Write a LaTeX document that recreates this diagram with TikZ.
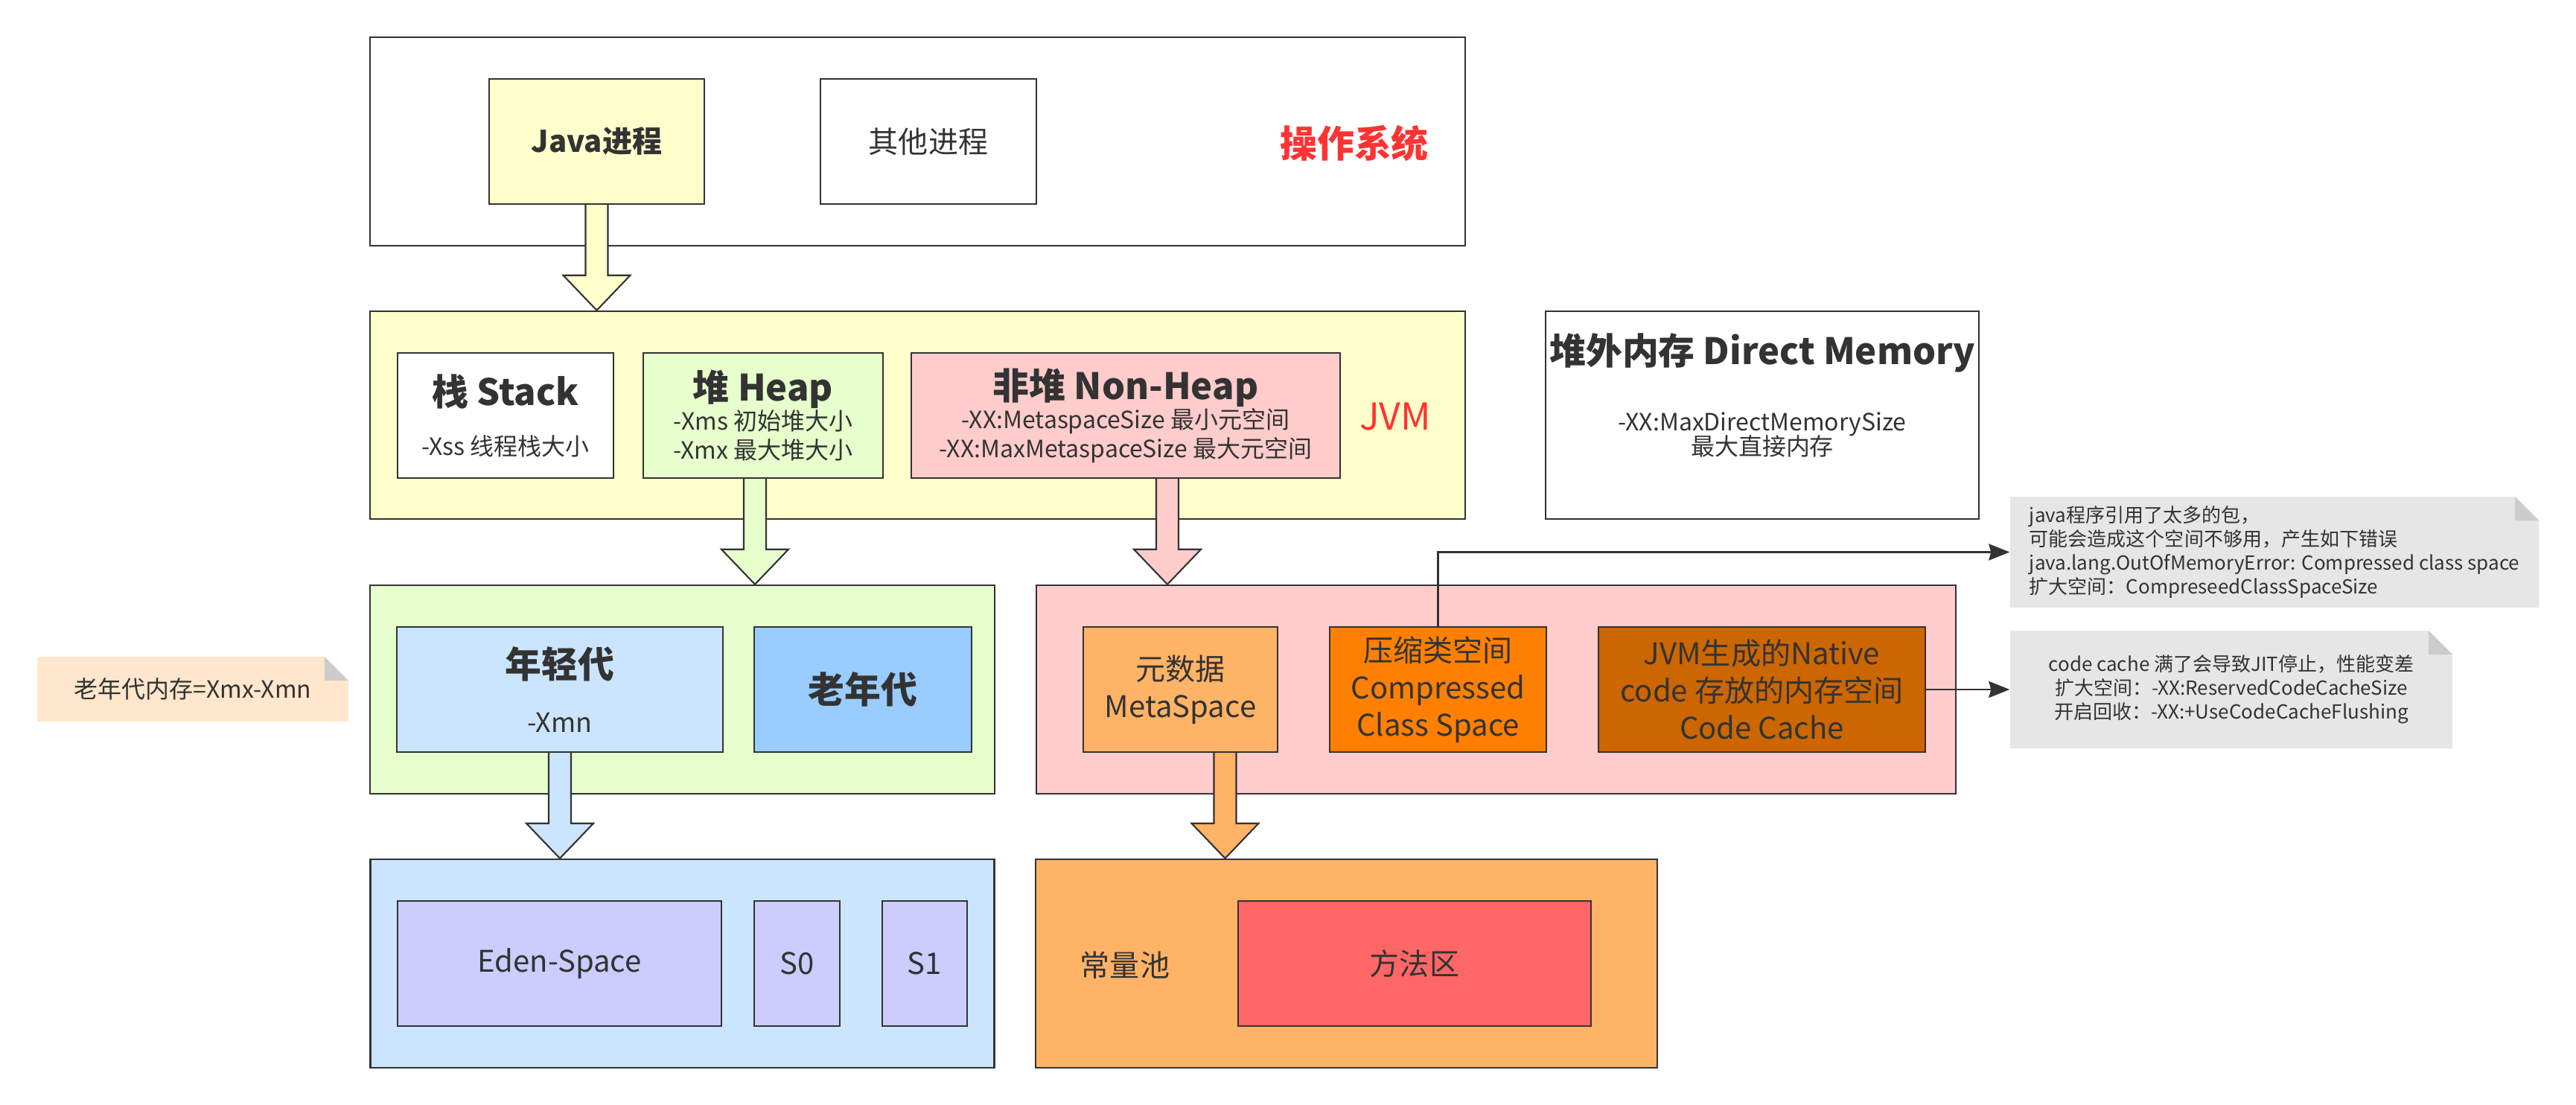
\documentclass[tikz,border=0pt]{standalone}
\usepackage{fontspec}
\setmainfont{Noto Sans CJK SC}
\usetikzlibrary{calc,arrows.meta}

\definecolor{linegray}{HTML}{333333}
\definecolor{labelred}{HTML}{FF3333}
\definecolor{yellowfill}{HTML}{FFFFCC}
\definecolor{greenfill}{HTML}{E6FFCC}
\definecolor{pinkfill}{HTML}{FFCCCC}
\definecolor{bluefill}{HTML}{CCE5FF}
\definecolor{skyfill}{HTML}{99CCFF}
\definecolor{peachfill}{HTML}{FFB366}
\definecolor{orangefill}{HTML}{FF8000}
\definecolor{brownfill}{HTML}{CC6600}
\definecolor{lilacfill}{HTML}{CCCCFF}
\definecolor{redfill}{HTML}{FF6666}
\definecolor{notegray}{HTML}{E6E6E6}
\definecolor{notepeach}{HTML}{FFE6CC}
\definecolor{foldgray}{HTML}{CCCCCC}

\newcommand{\fsnote}{\fontsize{7.4pt}{9.1pt}\selectfont}
\newcommand{\fsbase}{\fontsize{9.1pt}{11.1pt}\selectfont}
\newcommand{\fsmid}{\fontsize{11.4pt}{14.2pt}\selectfont}
\newcommand{\fstitle}{\fontsize{13.9pt}{16.7pt}\selectfont\bfseries}

\newcommand{\blockarrow}[3]{%
  \filldraw[draw=linegray, line width=0.6pt, fill=#1] let \p1=(#2), \p2=(#3) in
    (\x1-0.15cm,\y1) -- (\x1-0.15cm,\y2+0.47cm) -- (\x1-0.45cm,\y2+0.47cm) -- (\x1,\y2)
    -- (\x1+0.45cm,\y2+0.47cm) -- (\x1+0.15cm,\y2+0.47cm) -- (\x1+0.15cm,\y1);}

\begin{document}
\begin{tikzpicture}[x=1cm, y=-1cm,
  box/.style={draw=linegray, line width=0.7pt, text=linegray, inner sep=0pt, align=center},
  plain/.style={text=linegray, inner sep=0pt, align=center},
  label text/.style={text=labelred, inner sep=0pt, font=\fontsize{14.2pt}{17pt}\selectfont},
  note/.style={fill=white, text=linegray, inner sep=0pt, path picture={
    \fill[#1] (path picture bounding box.south west) -- (path picture bounding box.north west)
      -- ([xshift=-0.32cm]path picture bounding box.north east)
      -- ([yshift=-0.32cm]path picture bounding box.north east)
      -- (path picture bounding box.south east) -- cycle;
    \fill[foldgray] ([xshift=-0.32cm]path picture bounding box.north east)
      -- ([xshift=-0.32cm,yshift=-0.32cm]path picture bounding box.north east)
      -- ([yshift=-0.32cm]path picture bounding box.north east) -- cycle;}},
  link/.style={draw=linegray, line width=0.85pt, -{Stealth[length=0.28cm, width=0.22cm, inset=0.03cm]}}]
\useasboundingbox (0,0) rectangle (34.60,14.84);

\node[box, fill=white, minimum width=14.71cm, minimum height=2.80cm] (os) at (12.325,1.90) {};
\node[box, fill=yellowfill, minimum width=2.89cm, minimum height=1.68cm, font=\fsmid\bfseries] (javaproc) at (8.015,1.90) {Java进程};
\node[box, fill=white, minimum width=2.90cm, minimum height=1.68cm, font=\fsmid] (otherproc) at (12.47,1.90) {其他进程};
\node[label text, font=\fontsize{14.2pt}{17pt}\selectfont\bfseries] (oslabel) at (18.19,1.92) {操作系统};

\node[box, fill=yellowfill, minimum width=14.71cm, minimum height=2.79cm] (jvm) at (12.325,5.575) {};
\node[box, fill=white, minimum width=2.90cm, minimum height=1.68cm, font=\fsbase] (stack) at (6.79,5.58) {{\fstitle 栈 Stack}\\[8pt]-Xss 线程栈大小};
\node[box, fill=greenfill, minimum width=3.22cm, minimum height=1.68cm, font=\fsbase] (heap) at (10.25,5.58) {{\fstitle 堆 Heap}\\-Xms 初始堆大小\\-Xmx 最大堆大小};
\node[box, fill=pinkfill, minimum width=5.76cm, minimum height=1.68cm, font=\fsbase] (nonheap) at (15.12,5.58) {{\fstitle 非堆 Non-Heap}\\-XX:MetaspaceSize 最小元空间\\-XX:MaxMetaspaceSize 最大元空间};
\node[label text] (jvmlabel) at (18.74,5.60) {JVM};

\node[box, fill=white, minimum width=5.82cm, minimum height=2.79cm] (direct) at (23.67,5.575) {};
\node[plain, font={\fsbase\lineskiplimit=-5pt\baselineskip=9.4pt}] (directtext) at (23.67,5.31) {{\fstitle 堆外内存 Direct Memory}\\[16pt]-XX:MaxDirectMemorySize\\最大直接内存};

\node[box, fill=greenfill, minimum width=8.39cm, minimum height=2.80cm] (gen) at (9.165,9.26) {};
\node[box, fill=bluefill, minimum width=4.38cm, minimum height=1.68cm, font=\fontsize{10.2pt}{12pt}\selectfont] (young) at (7.52,9.26) {{\fstitle 年轻代}\\[8.6pt]-Xmn};
\node[box, fill=skyfill, minimum width=2.92cm, minimum height=1.68cm, font=\fstitle] (old) at (11.59,9.26) {老年代};

\node[box, fill=pinkfill, minimum width=12.35cm, minimum height=2.80cm] (meta) at (20.095,9.26) {};
\node[box, fill=peachfill, minimum width=2.61cm, minimum height=1.68cm, font=\fsmid] (metadata) at (15.855,9.26) {元数据\\MetaSpace};
\node[box, fill=orangefill, minimum width=2.91cm, minimum height=1.68cm, font=\fsmid] (compressed) at (19.315,9.26) {压缩类空间\\Compressed\\Class Space};
\node[box, fill=brownfill, minimum width=4.39cm, minimum height=1.68cm, font=\fsmid] (codecache) at (23.665,9.26) {JVM生成的Native\\code 存放的内存空间\\Code Cache};

\node[box, fill=bluefill, minimum width=8.38cm, minimum height=2.80cm] (newgen) at (9.165,12.94) {};
\node[box, fill=lilacfill, minimum width=4.35cm, minimum height=1.68cm, font=\fsmid] (eden) at (7.515,12.94) {Eden-Space};
\node[box, fill=lilacfill, minimum width=1.15cm, minimum height=1.68cm, font=\fsmid] (szero) at (10.705,12.94) {S0};
\node[box, fill=lilacfill, minimum width=1.14cm, minimum height=1.68cm, font=\fsmid] (sone) at (12.42,12.94) {S1};

\node[box, fill=peachfill, minimum width=8.35cm, minimum height=2.80cm] (pool) at (18.085,12.94) {};
\node[plain, font=\fsmid] (poollabel) at (15.11,12.96) {常量池};
\node[box, fill=redfill, minimum width=4.74cm, minimum height=1.68cm, font=\fsmid] (method) at (19.00,12.94) {方法区};

\node[note=notepeach, minimum width=4.18cm, minimum height=0.87cm, font=\fsbase] (oldnote) at (2.59,9.255) {老年代内存=Xmx-Xmn};
\node[note=notegray, minimum width=7.10cm, minimum height=1.49cm, font=\fsnote, align=left] (cnote) at (30.55,7.415) {java程序引用了太多的包，\\可能会造成这个空间不够用，产生如下错误\\java.lang.OutOfMemoryError: Compressed class space\\扩大空间：CompreseedClassSpaceSize};
\node[note=notegray, minimum width=5.94cm, minimum height=1.58cm, font=\fsnote, align=center] (ccnote) at (29.97,9.26) {code cache 满了会导致JIT停止，性能变差\\扩大空间：-XX:ReservedCodeCacheSize\\开启回收：-XX:+UseCodeCacheFlushing};

\blockarrow{yellowfill}{javaproc.south}{jvm.north}
\blockarrow{greenfill}{[xshift=-0.11cm]heap.south}{gen.north}
\blockarrow{pinkfill}{[xshift=0.56cm]nonheap.south}{meta.north}
\blockarrow{bluefill}{young.south}{newgen.north}
\blockarrow{peachfill}{[xshift=0.6cm]metadata.south}{pool.north}

\draw[link] (compressed.north) |- (cnote.west);
\draw[link] (codecache.east) -- (ccnote.west);
\end{tikzpicture}
\end{document}
